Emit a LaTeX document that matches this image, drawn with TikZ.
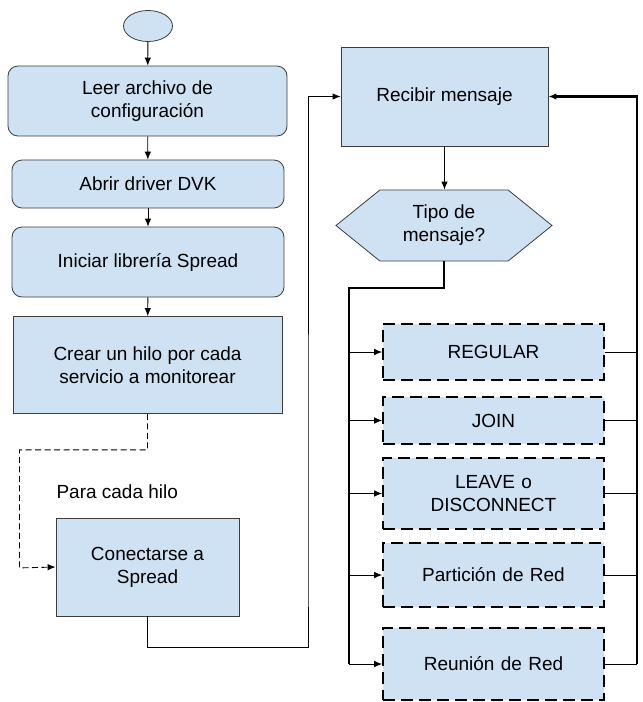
\documentclass[tikz,border=0pt]{standalone}
\usepackage{fontspec}
\setmainfont{Liberation Sans}
\usetikzlibrary{shapes.geometric,shapes.symbols,arrows.meta}
\definecolor{boxblue}{HTML}{CFE2F3}
\definecolor{boxline}{HTML}{3C3C3C}
\begin{document}
\begin{tikzpicture}[x=1pt,y=-1pt,
	font=\fontsize{19}{23}\selectfont,
	>={Latex[length=8pt,width=6.5pt]},
	box/.style={draw=boxline,fill=boxblue,line width=0.8pt,align=center,inner sep=0pt},
	roundbox/.style={box,rounded corners=10pt},
	casebox/.style={box,draw=black,line width=1.6pt,dash pattern=on 12pt off 6pt,minimum width=221,text width=200,rounded corners=0pt},
	flow/.style={draw=black,line width=0.9pt},
	bus/.style={draw=black,line width=2.2pt}]
	\useasboundingbox (0,0) rectangle (643,702);

	\node[shape=ellipse,box,minimum width=49,minimum height=31] (A) at (148,26) {};
	\node[roundbox,minimum width=279,minimum height=70] (B) at (147.5,101) {Leer archivo de\\configuración};
	\node[roundbox,minimum width=272,minimum height=48] (C) at (148,184) {Abrir driver DVK};
	\node[roundbox,minimum width=272,minimum height=70] (D) at (148,262) {Iniciar librería Spread};
	\node[box,minimum width=269,minimum height=97] (E) at (147.5,365) {Crear un hilo por cada\\servicio a monitorear};
	\node[anchor=west] (P) at (53,492) {Para cada hilo};
	\node[box,minimum width=183,minimum height=98] (F) at (147.5,567) {Conectarse a\\Spread};

	\node[box,minimum width=207,minimum height=99] (G) at (444.5,96.5) {Recibir mensaje};
	\node[box,shape=signal,signal to=west and east,signal pointer angle=78,
		minimum width=216,minimum height=71] (H) at (444,225.5) {Tipo de\\mensaje?};

	\node[casebox,minimum height=56] (I) at (493.5,352) {REGULAR};
	\node[casebox,minimum height=47] (J) at (493.5,420.5) {JOIN};
	\node[casebox,minimum height=71] (K) at (493.5,493.5) {LEAVE o\\DISCONNECT};
	\node[casebox,minimum height=64] (L) at (493.5,575) {Partición de Red};
	\node[casebox,minimum height=72] (M) at (493.5,664) {Reunión de Red};

	\coordinate (X) at (349,288);
	\coordinate (Y) at (637,664);

	\path[flow,->] (A) edge (B);
	\path[flow,->] (B) edge (C);
	\path[flow,->] (C) edge (D);
	\path[flow,->] (D) edge (E);
	\draw[flow,->,dash pattern=on 6pt off 3.5pt] (E.south) -- ++(0,36) -| ++(-128,118) -- (F.west);
	\draw[flow,->] (F.south) -- ++(0,31) -| ++(160.5,-80) |- (G.west);
	\draw[flow,->] (G.south) -- (G.south |- H.north);

	\draw[bus] (H.south) |- (X) -- (X |- M.west);
	\draw[bus,->] (Y) |- (G.east);
	\foreach \n in {I,J,K,L,M} {
		\draw[flow,->] (X |- \n.west) -- (\n.west);
		\draw[flow] (\n.east) -- (Y |- \n.east);
	}
\end{tikzpicture}
\end{document}
